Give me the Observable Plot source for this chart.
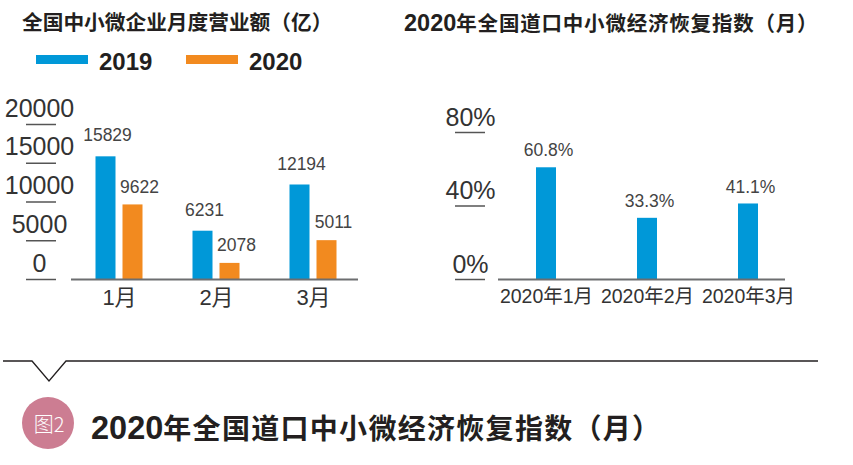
<!DOCTYPE html>
<html><head><meta charset="utf-8">
<script src="https://cdn.jsdelivr.net/npm/d3@7"></script>
<script src="https://cdn.jsdelivr.net/npm/@observablehq/plot@0.6"></script>
<style>
body{margin:0;background:#fff;}
#root{position:relative;width:853px;height:465px;overflow:hidden;font-family:"Liberation Sans","Noto Sans CJK SC",sans-serif;text-spacing-trim:space-all;}
.t{position:absolute;font-family:"Noto Sans CJK SC",sans-serif;font-weight:700;color:#231f20;white-space:nowrap;line-height:1;text-spacing-trim:space-all;}
.t .n{font-family:"Liberation Sans",sans-serif;font-weight:700;}
.sw{position:absolute;height:9px;width:52px;}
.plot{position:absolute;top:80px;}
</style></head><body><div id="root"></div>
<script>
// ---- data ----
const months = ["1月", "2月", "3月"];
const years = ["2019", "2020"];
const revenue2019 = [15829, 6231, 12194];
const revenue2020 = [9622, 2078, 5011];
const revenueTicks = [0, 5000, 10000, 15000, 20000];
const indexMonths = ["2020年1月", "2020年2月", "2020年3月"];
const recoveryIndex = [60.8, 33.3, 41.1];
const indexTicks = [0, 40, 80];
const colors = ["#0098d8", "#f28a1f"];
const leftTitle = "全国中小微企业月度营业额（亿）";
const titleYear = "2020";
const rightTitleRest = "年全国道口中小微经济恢复指数（月）";
const figLabel = "图2";

const root = document.getElementById("root");
const font = '"Liberation Sans","Noto Sans CJK SC",sans-serif';

function addDiv(cls, css) {
  const d = document.createElement("div");
  d.className = cls;
  Object.assign(d.style, css);
  root.appendChild(d);
  return d;
}
function span(parent, text, cls, css) {
  const s = document.createElement("span");
  if (cls) s.className = cls;
  s.textContent = text;
  Object.assign(s.style, css || {});
  parent.appendChild(s);
  return s;
}

// titles
const lt = addDiv("t", {left: "22px", top: "11px", fontSize: "20.7px"});
span(lt, leftTitle);
const rt = addDiv("t", {left: "404px", top: "12px", fontSize: "20.5px"});
span(rt, titleYear, "n", {fontSize: "23.5px"});
span(rt, rightTitleRest, null, {letterSpacing: "0.8px"});

// legend
years.forEach((y, i) => {
  const x0 = i === 0 ? 36 : 186;
  addDiv("sw", {left: x0 + "px", top: "55px", background: colors[i]});
  const d = addDiv("t", {left: (x0 + 63) + "px", top: "48px", fontSize: "24px"});
  span(d, y, "n");
});

// ---- left chart ----
const revData = months.flatMap((m, i) => [
  {month: m, year: years[0], value: revenue2019[i]},
  {month: m, year: years[1], value: revenue2020[i]}
]);
const d19 = revData.filter(d => d.year === years[0]);
const d20 = revData.filter(d => d.year === years[1]);

const left = Plot.plot({
  width: 400, height: 240,
  marginLeft: 71, marginRight: 42, marginTop: 44, marginBottom: 41,
  style: {fontFamily: font, overflow: "visible", background: "transparent"},
  x: {domain: months, paddingInner: 0.794, paddingOuter: 0.376, align: 0.514, label: null},
  y: {domain: [0, 20000], label: null},
  color: {domain: years, range: colors},
  marks: [
    Plot.axisY({ticks: revenueTicks, label: null, tickSize: 30, dx: -15, tickFormat: () => "", stroke: "#555", strokeWidth: 1.5}),
    Plot.axisY({ticks: revenueTicks, label: null, tickSize: 0, tickPadding: 0, textAnchor: "middle", dx: -32, dy: -16, fontSize: 25, fill: "#333", tickFormat: d => String(d)}),
    Plot.axisX({label: null, tickSize: 0, tickPadding: 10, fontSize: 22, fill: "#333"}),
    Plot.barY(d19, {x: "month", y: "value", fill: "year", dx: -13.5}),
    Plot.barY(d20, {x: "month", y: "value", fill: "year", dx: 13.5}),
    Plot.text(d19, {x: "month", y: "value", text: d => String(d.value), dx: -12, dy: -21, fontSize: 17.5, fill: "#444"}),
    Plot.text(d20, {x: "month", y: "value", text: d => String(d.value), dx: 20, dy: -18, fontSize: 17.5, fill: "#444"}),
    Plot.ruleY([0], {stroke: "#6d6e70", strokeWidth: 2})
  ]
});
left.classList.add("plot");
left.style.left = "0px";
root.appendChild(left);

// ---- right chart ----
const idxData = indexMonths.map((m, i) => ({month: m, value: recoveryIndex[i]}));
const right = Plot.plot({
  width: 433, height: 240,
  marginLeft: 78, marginRight: 68, marginTop: 52, marginBottom: 41,
  style: {fontFamily: font, overflow: "visible", background: "transparent"},
  x: {domain: indexMonths, paddingInner: 0.804, paddingOuter: 0.309, align: 0.587, label: null},
  y: {domain: [0, 80], label: null},
  marks: [
    Plot.axisY({ticks: indexTicks, label: null, tickSize: 30, dx: -13, tickFormat: () => "", stroke: "#555", strokeWidth: 1.5}),
    Plot.axisY({ticks: indexTicks, label: null, tickSize: 0, tickPadding: 0, textAnchor: "middle", dx: -28, dy: -15, fontSize: 25, fill: "#333", tickFormat: d => d + "%"}),
    Plot.axisX({label: null, tickSize: 0, tickPadding: 10, fontSize: 19.5, fill: "#333"}),
    Plot.barY(idxData, {x: "month", y: "value", fill: colors[0]}),
    Plot.text(idxData, {x: "month", y: "value", text: d => d.value.toFixed(1) + "%", dx: 2, dy: -17, fontSize: 17.5, fill: "#444"}),
    Plot.ruleY([0], {stroke: "#6d6e70", strokeWidth: 2})
  ]
});
right.classList.add("plot");
right.style.left = "420px";
root.appendChild(right);

// ---- bottom caption ----
const ns = "http://www.w3.org/2000/svg";
const cap = document.createElementNS(ns, "svg");
cap.setAttribute("width", 853); cap.setAttribute("height", 115);
cap.style.position = "absolute"; cap.style.left = "0px"; cap.style.top = "350px";
const pl = document.createElementNS(ns, "polyline");
pl.setAttribute("points", "3,11 32,11 49,31 66,11 818,11");
pl.setAttribute("fill", "none"); pl.setAttribute("stroke", "#231f20"); pl.setAttribute("stroke-width", "1.3");
cap.appendChild(pl);
const c = document.createElementNS(ns, "circle");
c.setAttribute("cx", 48); c.setAttribute("cy", 73); c.setAttribute("r", 26); c.setAttribute("fill", "#cc7d92");
cap.appendChild(c);
const ct = document.createElementNS(ns, "text");
ct.setAttribute("x", 49); ct.setAttribute("y", 73); ct.setAttribute("text-anchor", "middle");
ct.setAttribute("dominant-baseline", "central"); ct.setAttribute("fill", "#fff");
ct.setAttribute("font-size", "20"); ct.setAttribute("font-family", '"Noto Sans CJK SC",sans-serif'); ct.setAttribute("font-weight", "300");
ct.textContent = figLabel;
cap.appendChild(ct);
const bt = document.createElementNS(ns, "text");
bt.setAttribute("x", 91); bt.setAttribute("y", 89);
bt.setAttribute("fill", "#231f20"); bt.setAttribute("font-weight", "700");
const ts1 = document.createElementNS(ns, "tspan");
ts1.setAttribute("font-family", '"Liberation Sans",sans-serif'); ts1.setAttribute("font-size", "32.5");
ts1.textContent = titleYear;
const ts2 = document.createElementNS(ns, "tspan");
ts2.setAttribute("font-family", '"Noto Sans CJK SC",sans-serif'); ts2.setAttribute("font-size", "28");
ts2.setAttribute("letter-spacing", "1.3");
ts2.textContent = rightTitleRest;
bt.appendChild(ts1); bt.appendChild(ts2);
cap.appendChild(bt);
root.appendChild(cap);
</script></body></html>
